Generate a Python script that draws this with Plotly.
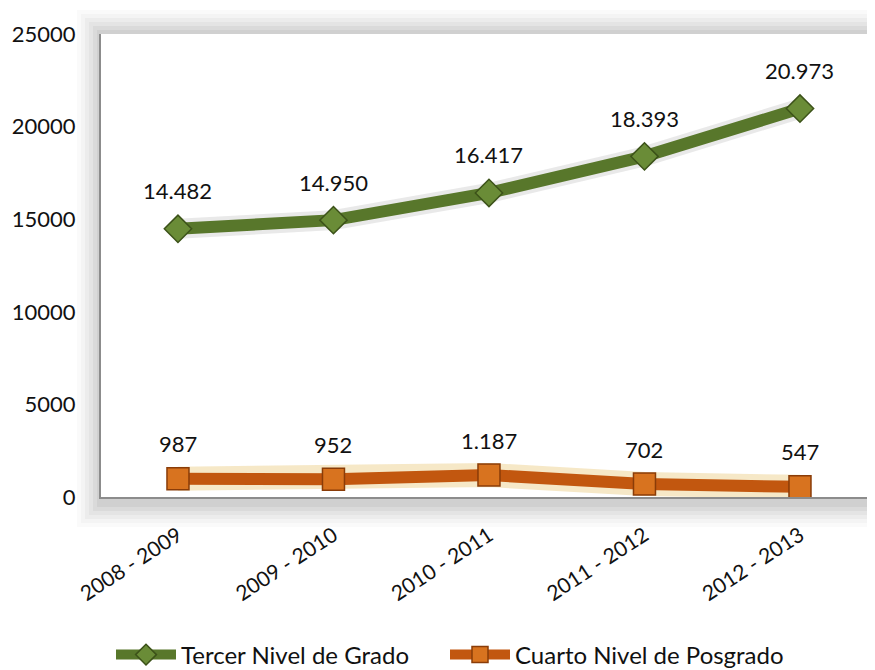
import plotly.graph_objects as go

categories = ["2008 - 2009", "2009 - 2010", "2010 - 2011", "2011 - 2012", "2012 - 2013"]
tercer = [14482, 14950, 16417, 18393, 20973]
cuarto = [987, 952, 1187, 702, 547]
y_ticks = [0, 5000, 10000, 15000, 20000, 25000]

FONT = "Lato"
OFF = 8  # page body margin in the browser
W, H = 875 - 2 * OFF, 670 - OFF
# plot area in page pixels: left 101, top 34, bottom 497
L, R, T = 101 - OFF, 0, 34 - OFF
B = H - (497 - OFF)
pw = W - L - R
ph = H - T - B

def px(x):  # page pixel -> paper x
    return (x - OFF - L) / pw

def py(y):  # page pixel -> paper y
    return (H - B - (y - OFF)) / ph

def fmt(v):
    return f"{v:,}".replace(",", ".")

fig = go.Figure()

# glow / shadow under lines
fig.add_trace(go.Scatter(x=categories, y=tercer, mode="lines",
                         line=dict(color="rgba(110,110,110,0.15)", width=20),
                         hoverinfo="skip", showlegend=False))
fig.add_trace(go.Scatter(x=categories, y=cuarto, mode="lines",
                         line=dict(color="rgba(235,205,130,0.45)", width=24),
                         hoverinfo="skip", showlegend=False))

fig.add_trace(go.Scatter(
    x=categories, y=tercer, mode="lines+markers", name="Tercer Nivel de Grado",
    line=dict(color="#58772b", width=12), legend="legend",
    marker=dict(symbol="diamond", size=21, color="#6a8c37",
                line=dict(color="#3c5219", width=1.5)),
))
fig.add_trace(go.Scatter(
    x=categories, y=cuarto, mode="lines+markers", name="Cuarto Nivel de Posgrado",
    line=dict(color="#c2570f", width=12), legend="legend2",
    marker=dict(symbol="square", size=22, color="#d8731f",
                line=dict(color="#8a3c08", width=1.5)),
))

for c, v in zip(categories, tercer):
    fig.add_annotation(x=c, y=v, text=fmt(v), showarrow=False, yshift=38,
                       font=dict(family=FONT, size=22, color="#111"))
for c, v in zip(categories, cuarto):
    fig.add_annotation(x=c, y=v, text=fmt(v), showarrow=False, yshift=35,
                       font=dict(family=FONT, size=22, color="#111"))

shapes = []
# soft shadow bands outside the plot area (top, left, bottom)
for i, op in enumerate([0.03, 0.04, 0.05, 0.06, 0.07, 0.08]):
    d = 24 - i * 4
    common = dict(type="rect", xref="paper", yref="paper", layer="below",
                  line=dict(width=0), fillcolor=f"rgba(100,100,100,{op})")
    shapes.append(dict(common, x0=px(101 - d), x1=1, y0=py(34), y1=py(34 - d)))
    shapes.append(dict(common, x0=px(101 - d), x1=px(101), y0=py(497 + d + 6), y1=py(34)))
    shapes.append(dict(common, x0=px(101), x1=1, y0=py(497 + d + 6), y1=py(497)))

leg_common = dict(orientation="h", xanchor="left", y=py(655), yanchor="middle",
                  font=dict(family=FONT, size=24, color="#111"), itemwidth=60,
                  bgcolor="rgba(0,0,0,0)")

fig.update_layout(
    width=W, height=H,
    margin=dict(l=L, r=R, t=T, b=B, autoexpand=False),
    paper_bgcolor="white",
    plot_bgcolor="white",
    font=dict(family=FONT, size=22, color="#111"),
    shapes=shapes,
    showlegend=True,
    legend=dict(leg_common, x=px(111)),
    legend2=dict(leg_common, x=px(445)),
    xaxis=dict(range=[-0.495, 4.431], showgrid=False, zeroline=False, automargin=False,
               showline=True, linecolor="#8c8c8c", linewidth=2,
               tickangle=-33, ticks="", ticklabelstandoff=16,
               tickfont=dict(family=FONT, size=21, color="#111")),
    yaxis=dict(range=[0, 25000], tickvals=y_ticks, tickformat="d", automargin=False,
               showgrid=False, zeroline=False,
               showline=True, linecolor="#8c8c8c", linewidth=2,
               ticks="", ticklabelstandoff=19,
               tickfont=dict(family=FONT, size=22, color="#111")),
)

fig.write_html("out.html")
